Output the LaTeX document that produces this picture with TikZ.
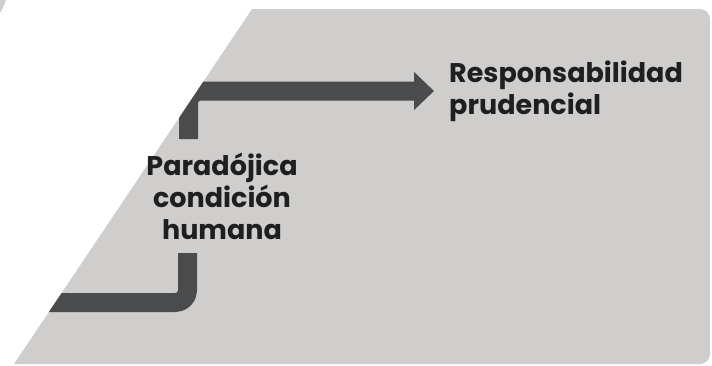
\documentclass[tikz,border=0pt]{standalone}
\usepackage{fontspec}
\setmainfont{Poppins}
\usetikzlibrary{arrows.meta}
\definecolor{panel}{RGB}{208,206,204}
\definecolor{bar}{RGB}{74,75,77}
\definecolor{ink}{RGB}{32,31,32}
\begin{document}
\begin{tikzpicture}[x=1pt, y=-1pt, line join=round,
    txt/.style={font=\bfseries\fontsize{27}{32}\selectfont, text=ink, inner sep=0pt},
    flow/.style={draw=bar, line width=19pt, rounded corners=12pt}]
    \useasboundingbox (0,0) rectangle (712,365);
    \fill[panel] (0,0) -- (6,0) .. controls (4,6) .. (0,13) -- cycle;
    \fill[panel] (14,364) -- (252,9) [rounded corners=10pt] -- (710,9) -- (710,364) [sharp corners] -- cycle;
    \node[txt, align=center] (paradox) at (222,196) {Paradójica\\condición\\humana};
    \node[txt, align=left, anchor=west] (resp) at (449,91) {Responsabilidad\\prudencial};
    \coordinate (up) at (188.5,139);
    \coordinate (dn) at (187.5,253);
    \coordinate (src) at (0,302.5);
    \begin{scope}
    \clip (14,364) -- (252,9) -- (710,9) -- (710,364) -- cycle;
    \draw[flow, -{Triangle[length=20pt, width=37pt]}] (up) |- ([xshift=-15pt]resp.west);
    \draw[flow] (src) -| (dn);
    \end{scope}
\end{tikzpicture}
\end{document}
